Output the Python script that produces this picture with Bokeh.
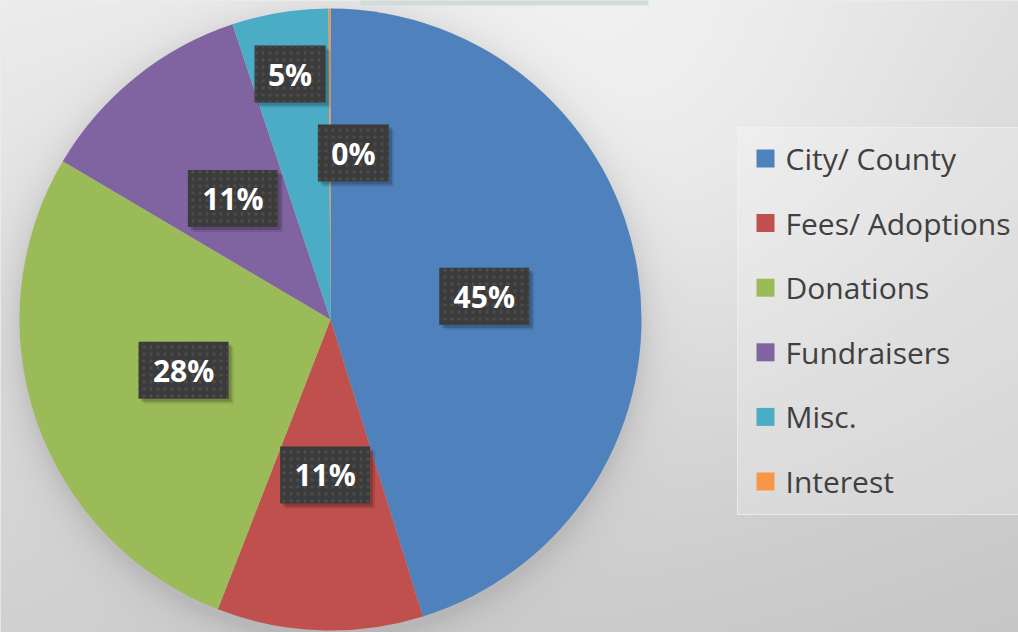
import numpy as np
from bokeh.plotting import figure
from bokeh.models import Range1d, ColumnDataSource
from bokeh.core.properties import value
from bokeh.embed import file_html
from bokeh.resources import INLINE

# ---- data -------------------------------------------------------------
categories = ["City/ County", "Fees/ Adoptions", "Donations", "Fundraisers", "Misc.", "Interest"]
shares = [45.2, 10.7, 27.6, 11.4, 5.0, 0.1]
colors = ["#4f81bd", "#c0504d", "#9bbb59", "#8064a2", "#4bacc6", "#f79646"]

# ---- layout -----------------------------------------------------------
W, H = 1018, 632
CX, CY_PX, R = 330, 319, 311
CY = H - CY_PX

p = figure(width=W, height=H, output_backend="svg", toolbar_location=None,
           x_range=Range1d(0, W), y_range=Range1d(0, H),
           x_axis_type=None, y_axis_type=None,
           min_border=0, min_border_left=0, min_border_right=0,
           min_border_top=0, min_border_bottom=0)
p.grid.visible = False
p.outline_line_color = None
p.background_fill_color = "#dddddd"
p.border_fill_color = "#dddddd"

# ---- background gradient with soft pie shadow -------------------------
yy, xx = np.mgrid[0:H, 0:W].astype(float)
u, v = xx / W, yy / H
g = 236 * (1 - u) * (1 - v) + 220 * u * (1 - v) + 208 * (1 - u) * v + 198 * u * v
g += 16 * np.exp(-((xx - 640) ** 2 + (yy - 110) ** 2) / (2 * 230 ** 2))
d = np.hypot(xx - CX, yy - (CY_PX + 6)) - R
g -= np.where(d > 0, 22 * np.exp(-d / 16), 22)
g = np.clip(g, 0, 255).astype(np.uint8)
img = np.empty((H, W), dtype=np.uint32)
view = img.view(dtype=np.uint8).reshape((H, W, 4))
view[..., 0] = g
view[..., 1] = g
view[..., 2] = g
view[..., 3] = 255
p.image_rgba(image=[img[::-1]], x=0, y=0, dw=W, dh=H)

# top (cut-off) title box
p.quad(left=360, right=648, bottom=H - 5, top=H + 10, fill_color="#cfdcd8", line_color=None)

# ---- pie -------------------------------------------------------------
tot = float(sum(shares))
cum = np.concatenate([[0.0], np.cumsum(shares)]) / tot
src = ColumnDataSource(dict(
    start=np.pi / 2 - 2 * np.pi * cum[:-1],
    end=np.pi / 2 - 2 * np.pi * cum[1:],
    color=colors, cat=categories))
p.wedge(x=CX, y=CY, radius=R, start_angle="start", end_angle="end",
        direction="clock", fill_color="color", line_color=None, source=src)

# ---- data labels -----------------------------------------------------
label_layout = {"Misc.": (0.8, 0.0), "Interest": (0.54, 8.0)}
mids = (cum[:-1] + cum[1:]) / 2
lx, ly, lt, bw = [], [], [], []
for cat, sh, m in zip(categories, shares, mids):
    frac, dang = label_layout.get(cat, (0.5, 0.0))
    th = 2 * np.pi * m + np.radians(dang)
    lx.append(CX + frac * R * np.sin(th))
    ly.append(CY + frac * R * np.cos(th))
    t = f"{round(sh)}%"
    lt.append(t)
    bw.append(33 + 19 * len(t))
lx, ly = np.array(lx), np.array(ly)
BH = 57
p.rect(x=lx + 5, y=ly - 5, width=bw, height=BH, fill_color="black", fill_alpha=0.10, line_color=None)
p.rect(x=lx + 3, y=ly - 3, width=bw, height=BH, fill_color="black", fill_alpha=0.18, line_color=None)
p.rect(x=lx, y=ly, width=bw, height=BH, fill_color="#3b3b3b", line_color=None,
       hatch_pattern=".", hatch_color="#4b4b4b", hatch_scale=7, hatch_weight=1)
p.text(x=lx, y=ly, text=lt, text_align="center", text_baseline="middle",
       text_font=value("Open Sans"), text_font_style="bold", text_font_size="30px",
       text_color="white")

# ---- legend ------------------------------------------------------------
p.quad(left=737, right=W + 10, top=H - 127, bottom=H - 514,
       fill_color="white", fill_alpha=0.22, line_color="#f2f2f2", line_alpha=0.7)
rows_py = 158 + 64.6 * np.arange(len(categories))
p.rect(x=765, y=H - rows_py, width=18, height=18, fill_color=colors, line_color=None)
p.text(x=785, y=H - rows_py, text=categories, text_align="left",
       text_baseline="middle", text_font=value("Open Sans"),
       text_font_size="30px", text_color="#404040")

open("out.html", "w").write(file_html(p, INLINE))
